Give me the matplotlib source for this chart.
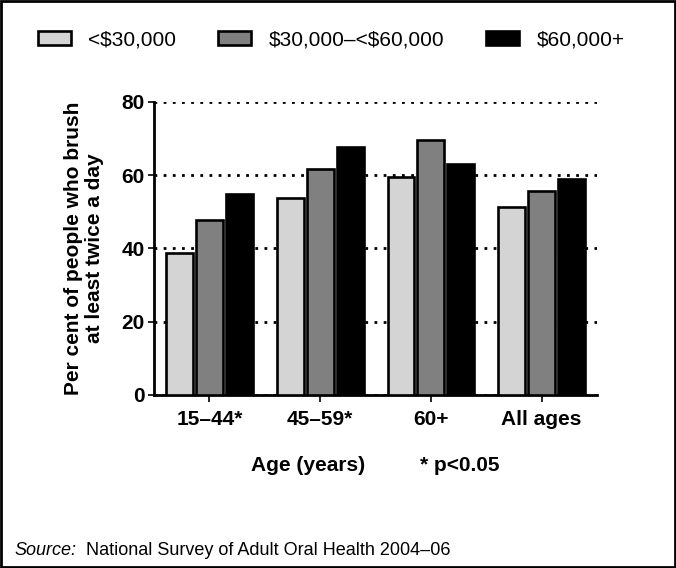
import matplotlib.pyplot as plt
import numpy as np

plt.rcParams['font.family'] = ['Liberation Sans', 'DejaVu Sans']

age_groups = ['15\u201344*', '45\u201359*', '60+', 'All ages']
income_labels = ['<\\$30,000', '\\$30,000\u2013<\\$60,000', '\\$60,000+']
low_income = [38.8, 53.6, 59.5, 51.4]
mid_income = [47.7, 61.6, 69.6, 55.5]
high_income = [54.7, 67.7, 62.9, 58.9]
series = [low_income, mid_income, high_income]
colors = ['#d4d4d4', '#808080', '#000000']

fig = plt.figure(figsize=(6.76, 5.68), dpi=100)
ax = fig.add_axes([0.228, 0.3046, 0.655, 0.5164])

x = np.arange(len(age_groups))
width = 0.243
step = 0.27
for k, vals in enumerate(series):
    ax.bar(x + (k - 1) * step, vals, width, color=colors[k], edgecolor='black',
           linewidth=1.9, label=income_labels[k], zorder=3)

ax.set_xlim(-0.5, 3.5)
ax.set_ylim(0, 80)
ax.set_yticks([0, 20, 40, 60, 80])
ax.set_xticks(x)
ax.set_xticklabels(age_groups)
for lab in ax.get_xticklabels() + ax.get_yticklabels():
    lab.set_fontweight('bold')
    lab.set_fontsize(15)
ax.tick_params(axis='both', direction='out', length=4, width=1.2, color='black', pad=3)
ax.tick_params(axis='x', length=5, pad=6)

for s in ['top', 'right']:
    ax.spines[s].set_visible(False)
for s in ['left', 'bottom']:
    ax.spines[s].set_linewidth(2)

ax.yaxis.grid(True, linestyle=(0, (1, 2.3)), linewidth=2, color='black', zorder=0)
ax.set_axisbelow(True)

ax.set_ylabel('Per cent of people who brush\nat least twice a day', fontsize=15,
              fontweight='bold', labelpad=12, linespacing=1.15)

fig.text(0.456, 0.180, 'Age (years)', fontsize=15, fontweight='bold', ha='center', va='center')
fig.text(0.680, 0.180, '* p<0.05', fontsize=15, fontweight='bold', ha='center', va='center')
fig.text(0.022, 0.03, 'Source:', fontsize=13, style='italic', va='center')
fig.text(0.127, 0.03, 'National Survey of Adult Oral Health 2004\u201306', fontsize=13, va='center')

fig.legend(loc='center left', bbox_to_anchor=(0.044, 0.93), ncol=3, frameon=False,
           fontsize=15, handlelength=1.6, handleheight=0.67, handletextpad=0.82,
           columnspacing=2.0, borderaxespad=0)

border = plt.Rectangle((0.002, 0.002), 0.996, 0.996, transform=fig.transFigure,
                       fill=False, edgecolor='black', linewidth=2)
fig.patches.append(border)

fig.savefig('out.png', dpi=100)
